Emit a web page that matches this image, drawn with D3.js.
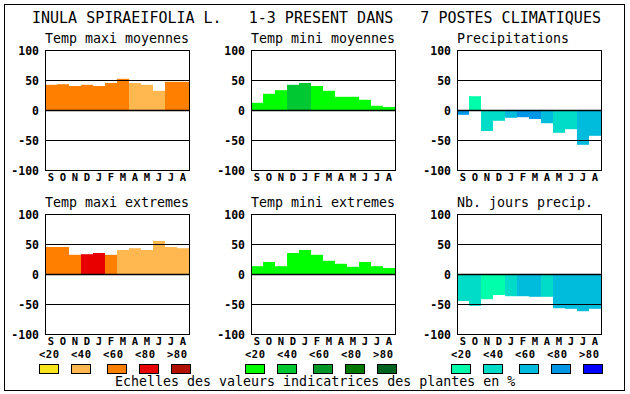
<!DOCTYPE html>
<html>
<head>
<meta charset="utf-8">
<script src="https://cdn.jsdelivr.net/npm/d3@7"></script>
<style>
  body { margin: 0; background: #fff; }
  svg text { font-family: "DejaVu Sans Mono", monospace; fill: #000; }
  .tick-lbl { font-weight: bold; font-size: 11.5px; }
  .month-lbl, .leg-lbl { font-weight: bold; font-size: 10.5px; }
</style>
</head>
<body>
<script>
// ---------------------------------------------------------------
// data (percent scale -100..100)
var months = ["S", "O", "N", "D", "J", "F", "M", "A", "M", "J", "J", "A"];
var yTicks = [100, 50, 0, -50, -100];
var legendLabels = ["<20", "<40", "<60", "<80", ">80"];

var tmaxMoy    = [42, 43, 40, 42, 40, 45, 52, 45, 42, 32, 47, 47];
var tmaxMoyCls = [2, 2, 2, 2, 2, 2, 2, 1, 1, 1, 2, 2];
var tminMoy    = [12, 27, 33, 42, 45, 40, 32, 22, 22, 17, 7, 5];
var tminMoyCls = [0, 0, 0, 1, 1, 0, 0, 0, 0, 0, 0, 0];
var precip     = [-8, 23, -35, -18, -13, -12, -15, -22, -38, -32, -58, -43];
var precipCls  = [3, 0, 1, 1, 2, 3, 3, 2, 1, 1, 2, 2];
var tmaxExt    = [45, 45, 32, 33, 35, 32, 40, 43, 40, 55, 45, 43];
var tmaxExtCls = [2, 2, 2, 3, 3, 2, 1, 1, 1, 1, 1, 1];
var tminExt    = [13, 20, 13, 35, 40, 32, 22, 17, 12, 20, 13, 10];
var tminExtCls = [0, 0, 0, 0, 0, 0, 0, 0, 0, 0, 0, 0];
var nbJours    = [-45, -53, -42, -35, -37, -37, -38, -38, -57, -58, -62, -58];
var nbJoursCls = [1, 1, 0, 0, 1, 2, 2, 1, 2, 2, 2, 2];

var orangePal = ["#f8e61c", "#ffb850", "#ff8000", "#e80000", "#b01000"];
var greenPal  = ["#00ff00", "#00c832", "#009628", "#007800", "#006420"];
var bluePal   = ["#00ffaa", "#00dcc8", "#00bcdc", "#0096e6", "#0000ff"];

var mainTitle = "INULA SPIRAEIFOLIA L.   1-3 PRESENT DANS   7 POSTES CLIMATIQUES";
var footNote = "Echelles des valeurs indicatrices des plantes en %";

var panels = [
  { title: "Temp maxi moyennes", values: tmaxMoy, cls: tmaxMoyCls, pal: orangePal, col: 0, row: 0 },
  { title: "Temp mini moyennes", values: tminMoy, cls: tminMoyCls, pal: greenPal,  col: 1, row: 0 },
  { title: "Precipitations",     values: precip,  cls: precipCls,  pal: bluePal,   col: 2, row: 0 },
  { title: "Temp maxi extremes", values: tmaxExt, cls: tmaxExtCls, pal: orangePal, col: 0, row: 1 },
  { title: "Temp mini extremes", values: tminExt, cls: tminExtCls, pal: greenPal,  col: 1, row: 1 },
  { title: "Nb. jours precip.",  values: nbJours, cls: nbJoursCls, pal: bluePal,   col: 2, row: 1 }
];

// ---------------------------------------------------------------
var W = 630, H = 394;
var colLeft = [45, 251, 457];
var rowTop = [50, 214];
var plotW = 144, plotH = 120;

var svg = d3.select("body").append("svg")
    .attr("width", W)
    .attr("height", H);

svg.append("rect")
    .attr("x", 4.5).attr("y", 4.5)
    .attr("width", 620).attr("height", 386)
    .attr("fill", "none").attr("stroke", "#000");

svg.append("text")
    .attr("x", 32).attr("y", 23)
    .style("font-size", "15px")
    .style("white-space", "pre")
    .attr("xml:space", "preserve")
    .text(mainTitle);

svg.append("text")
    .attr("x", 115).attr("y", 386)
    .style("font-size", "13.3px")
    .text(footNote);

// ---------------------------------------------------------------
function drawPanel(p)
{
  var left = colLeft[p.col], top = rowTop[p.row];
  var g = svg.append("g").attr("transform", "translate(" + left + "," + top + ")");

  var x = d3.scaleBand().domain(d3.range(months.length)).range([0, plotW]).padding(0);
  var y = d3.scaleLinear().domain([-100, 100]).range([plotH, 0]);

  g.append("text")
      .attr("x", 0).attr("y", -7)
      .style("font-size", "13.3px")
      .text(p.title);

  // bars
  g.selectAll(".bar")
      .data(p.values)
      .enter()
      .append("rect")
      .attr("x", function(d, i) { return x(i); })
      .attr("y", function(d) { return y(Math.max(0, d)); })
      .attr("width", x.bandwidth())
      .attr("height", function(d) { return Math.abs(y(d) - y(0)); })
      .attr("fill", function(d, i) { return p.pal[p.cls[i]]; });

  // grid lines at 50, 0, -50
  g.selectAll(".grid")
      .data([50, 0, -50])
      .enter()
      .append("line")
      .attr("x1", 0).attr("x2", plotW)
      .attr("y1", function(d) { return Math.round(y(d)) + 0.5; })
      .attr("y2", function(d) { return Math.round(y(d)) + 0.5; })
      .attr("stroke", "#000")
      .attr("stroke-width", function(d) { return d == 0 ? 1.5 : 1; });

  g.append("rect")
      .attr("x", 0.5).attr("y", 0.5)
      .attr("width", plotW).attr("height", plotH)
      .attr("fill", "none").attr("stroke", "#000");

  // y tick labels
  g.selectAll(".tick-lbl")
      .data(yTicks)
      .enter()
      .append("text")
      .attr("class", "tick-lbl")
      .attr("x", -6)
      .attr("y", function(d) { return y(d) + 4.5; })
      .style("text-anchor", "end")
      .text(function(d) { return d; });

  // month labels
  g.selectAll(".month-lbl")
      .data(months)
      .enter()
      .append("text")
      .attr("class", "month-lbl")
      .attr("x", function(d, i) { return x(i) + x.bandwidth() / 2; })
      .attr("y", plotH + 11)
      .style("text-anchor", "middle")
      .text(function(d) { return d; });

  // legend under bottom row
  if(p.row == 1) {
    var lblOff = [-6, 26, 58, 90, 122];
    var swOff = [-6, 26, 62, 94, 126];
    g.selectAll(".leg-lbl")
        .data(legendLabels)
        .enter()
        .append("text")
        .attr("class", "leg-lbl")
        .attr("x", function(d, i) { return lblOff[i]; })
        .attr("y", 144)
        .style("letter-spacing", "0.5px")
        .text(function(d) { return d; });

    g.selectAll(".leg-sw")
        .data(p.pal)
        .enter()
        .append("rect")
        .attr("x", function(d, i) { return swOff[i] + 0.5; })
        .attr("y", 150.5)
        .attr("width", 19).attr("height", 9)
        .attr("fill", function(d) { return d; })
        .attr("stroke", "#000");
  }
}

panels.forEach(drawPanel);
</script>
</body>
</html>
